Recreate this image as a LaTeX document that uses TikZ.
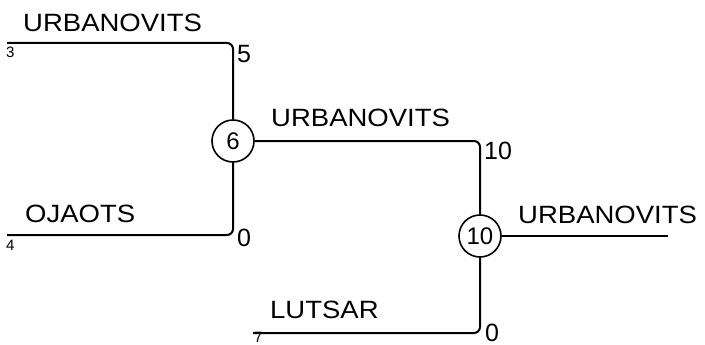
\documentclass[tikz,border=0pt]{standalone}
\usepackage{fontspec}
\setmainfont{Liberation Sans}
\newfontfamily\widefont{Liberation Sans}[FakeStretch=1.1]
\usetikzlibrary{positioning}

\begin{document}
\begin{tikzpicture}[
    % GLOBAL CFG
    x=1pt, y=-1pt,
    % Styles
    game/.style={% For the match circles
        circle,
        draw,
        line width=1.6pt,
        minimum size=42pt,
        inner sep=0pt,
        font=\fontsize{24}{26}\selectfont,
        },
    player/.style={% For the names above the lines
        anchor=base west,
        inner sep=0pt,
        font=\widefont\fontsize{25}{28}\selectfont,
        },
    seed/.style={% For the small numbers under the lines
        anchor=base west,
        inner sep=0pt,
        font=\fontsize{15}{17}\selectfont,
        },
    score/.style={% For the scores next to the corners
        anchor=base west,
        inner sep=0pt,
        font=\fontsize{25}{28}\selectfont,
        },
    bracket/.style={% Lines with rounded corners
        line width=2pt,
        rounded corners=6pt,
        },
    ]

    \useasboundingbox (0,0) rectangle (705,345);

    % Draw the matches
    \node [game] (m6) at (233,141) {6};
    \node [game] (m10) at (480,236) {10};

    % Free ends of the lines
    \coordinate (s3) at (7,43);
    \coordinate (s4) at (7,235);
    \coordinate (s7) at (253,333);
    \coordinate (win) at (668,236);

    % Names
    \node [player] (p3) at (23,32) {URBANOVITS};
    \node [player] (p4) at (25,222) {OJAOTS};
    \node [player] (p6) at (271,126) {URBANOVITS};
    \node [player] (p7) at (270,318) {LUTSAR};
    \node [player] (p10) at (518,223) {URBANOVITS};

    % Seeds
    \node [seed] (n3) at (6,58) {3};
    \node [seed] (n4) at (6,250) {4};
    \node [seed] (n7) at (254,342) {7};

    % Scores
    \node [score] (r3) at (237,63) {5};
    \node [score] (r4) at (237,246) {0};
    \node [score] (r6) at (484,159) {10};
    \node [score] (r7) at (485,341) {0};

% Connect all
    \draw [bracket] (s3) -| (m6);
    \draw [bracket] (s4) -| (m6);
    \draw [bracket] (m6) -| (m10);
    \draw [bracket] (s7) -| (m10);
    \draw [bracket] (m10) -- (win);

\end{tikzpicture}
\end{document}
